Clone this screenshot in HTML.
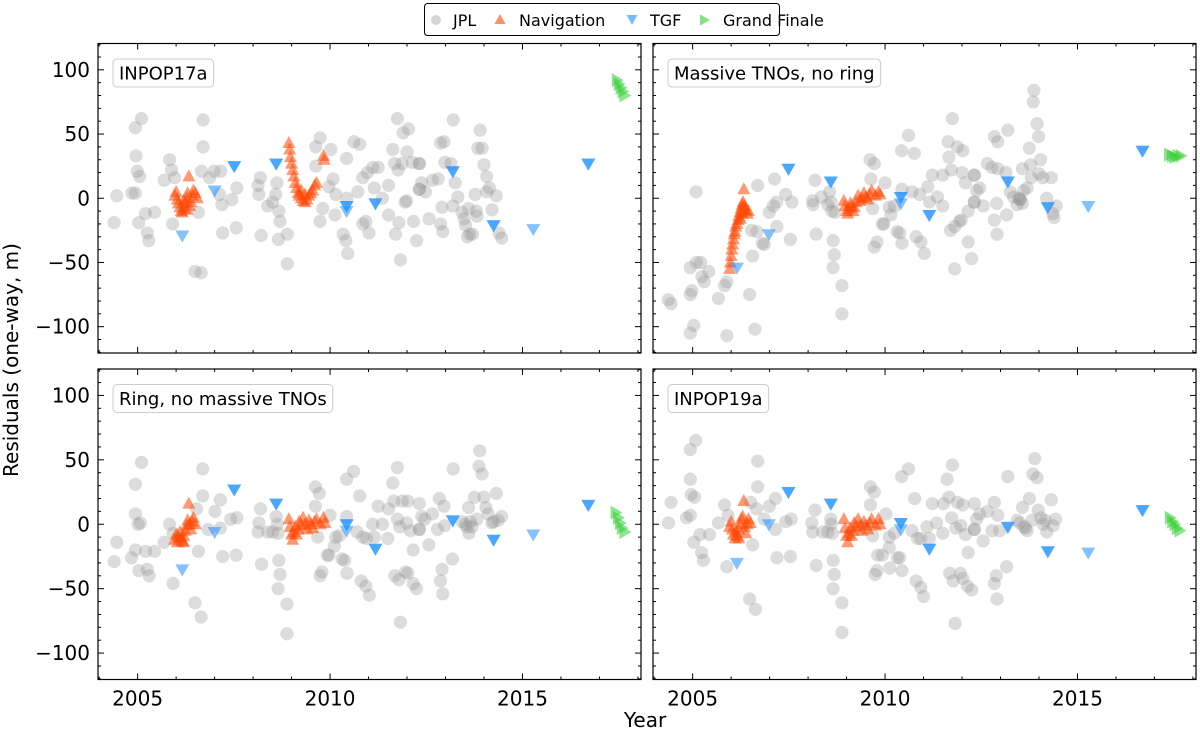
<!DOCTYPE html>
<html><head><meta charset="utf-8"><title>Residuals</title>
<style>
html,body{margin:0;padding:0;background:#fff;}
svg{display:block;font-family:"DejaVu Sans","Liberation Sans",sans-serif;}
</style></head>
<body>
<svg id="chart" width="1200" height="735" viewBox="0 0 1200 735" xmlns="http://www.w3.org/2000/svg">
<g id="legend">
  <rect x="424.5" y="3.5" width="355" height="32" rx="3" fill="#fff" stroke="#000" stroke-width="1"/>
  <g><circle cx="436" cy="20" r="5" fill="rgba(150,150,150,0.4)"/><text x="453" y="26" font-size="16">JPL</text></g>
  <g><polygon points="500,14 505.5,24 494.5,24" fill="#ff4500" opacity="0.6"/><text x="519" y="26" font-size="16">Navigation</text></g>
  <g><polygon points="626.5,15 637.5,15 632,25" fill="#1e90ff" opacity="0.6"/><text x="650" y="26" font-size="16">TGF</text></g>
  <g><polygon points="700,14.5 710,20 700,25.5" fill="#32cd32" opacity="0.6"/><text x="723" y="26" font-size="16">Grand Finale</text></g>
</g>
<text x="18" y="360" font-size="20" text-anchor="middle" transform="rotate(-90 18 360)">Residuals (one-way, m)</text>
<text x="645" y="727" font-size="20" text-anchor="middle">Year</text>
</svg>
<script>
const xTicks=[2005,2010,2015];
const yTicks=[100,50,0,-50,-100];
const yTickLabels=["100","50","0","\u221250","\u2212100"];
const panelTitles=["INPOP17a","Massive TNOs, no ring","Ring, no massive TNOs","INPOP19a"];

const jplTL=[[2004.46,2],[2004.39,-19],[2004.94,55],[2005.1,62],[2004.96,33],[2004.99,21],[2005.05,17],[2004.85,4],[2004.94,4],[2005.2,-12],[2005.44,-11],[2005.03,-19],[2005.25,-27],[2005.29,-33],[2005.69,14],[2005.83,30],[2005.88,22],[2005.96,16],[2005.91,-20],[2006.58,-11],[2006.7,61],[2006.7,40],[2006.66,21],[2006.87,16],[2006.99,21],[2007.16,21],[2007.13,3],[2007.19,-5],[2007.45,-1],[2007.58,8],[2007.21,-27],[2007.56,-23],[2006.49,-57],[2006.65,-58],[2008.15,3],[2008.13,10],[2008.19,16],[2008.38,-6],[2008.51,-3],[2008.59,3],[2008.62,12],[2008.67,-10],[2008.7,-18],[2008.21,-29],[2008.66,-32],[2008.89,-28],[2008.89,-51],[2009.74,47],[2009.63,40],[2010.02,38],[2009.63,25],[2009.81,-8],[2009.74,-18],[2009.97,9],[2010.08,15],[2010.15,3],[2010.13,-13],[2010.43,31],[2010.62,44],[2010.77,42],[2010.44,0],[2010.34,-28],[2010.41,-33],[2010.46,-43],[2010.72,5],[2010.85,-20],[2010.93,-18],[2011.01,-27],[2010.85,16],[2010.97,20],[2011.11,24],[2011.25,24],[2011.15,8],[2011.36,0],[2011.52,10],[2011.52,-13],[2011.63,38],[2011.75,62],[2011.9,51],[2012.04,54],[2012.0,36],[2011.68,27],[2011.77,22],[2011.87,27],[2012.14,28],[2012.32,27],[2012.32,27],[2011.99,-2],[2011.95,-3],[2011.79,-19],[2011.7,-28],[2011.83,-48],[2012.17,-18],[2012.25,-33],[2012.32,7],[2012.32,7],[2012.38,12],[2012.48,5],[2012.57,-16],[2012.66,14],[2012.81,15],[2012.87,43],[2012.96,44],[2012.98,28],[2013.2,61],[2013.14,27],[2013.25,12],[2012.91,-7],[2013.19,-6],[2012.87,-20],[2012.93,-26],[2013.32,1],[2013.43,-11],[2013.48,-16],[2013.52,-21],[2013.6,-8],[2013.63,-28],[2013.7,-28],[2013.57,-30],[2013.8,-10],[2013.82,-14],[2013.77,3],[2013.84,39],[2013.95,39],[2013.9,53],[2014.0,26],[2014.07,17],[2014.07,5],[2014.14,8],[2014.21,-9],[2014.32,2],[2014.39,-27],[2014.46,-31]];
const jplTR=[[2004.37,-79],[2004.44,-82],[2004.94,-75],[2004.94,-105],[2005.03,-99],[2004.94,-54],[2005.1,-50],[2005.21,-50],[2005.24,-61],[2005.3,-65],[2005.42,-57],[2004.98,-72],[2005.67,-78],[2005.83,-68],[2005.89,-65],[2005.89,-107],[2005.09,5],[2006.48,-75],[2006.62,-102],[2006.56,-45],[2006.53,-25],[2006.67,-26],[2006.81,-35],[2006.86,-36],[2006.69,10],[2006.99,-11],[2007.1,-6],[2007.18,-3],[2007.19,-22],[2007.13,15],[2007.42,3],[2007.58,-3],[2007.54,-32],[2008.18,14],[2008.12,-2],[2008.13,-5],[2008.21,-28],[2008.35,1],[2008.56,5],[2008.6,-3],[2008.51,-5],[2008.62,-10],[2008.7,-11],[2008.65,-33],[2008.68,-44],[2008.65,-54],[2008.88,-68],[2008.88,-90],[2009.61,30],[2009.72,27],[2009.63,15],[2010.0,12],[2009.68,-8],[2009.72,-38],[2009.79,-34],[2009.93,-20],[2009.97,-20],[2010.11,-7],[2010.15,-13],[2010.24,-6],[2010.31,-26],[2010.38,-27],[2010.44,-35],[2010.44,7],[2010.43,37],[2010.61,49],[2010.76,35],[2010.7,5],[2010.9,3],[2010.81,-30],[2010.93,-34],[2011.02,-43],[2011.11,9],[2011.23,18],[2011.36,1],[2011.16,-3],[2011.5,-6],[2011.5,18],[2011.64,44],[2011.66,32],[2011.72,22],[2011.75,62],[2011.88,40],[2012.02,37],[2012.0,20],[2012.09,12],[2012.32,18],[2012.32,18],[2012.38,6],[2012.46,8],[2012.32,-3],[2012.32,-3],[2012.16,-10],[2011.98,-17],[2011.93,-18],[2011.7,-25],[2011.81,-22],[2012.16,-34],[2012.25,-47],[2011.81,-55],[2012.55,-6],[2012.66,27],[2012.78,24],[2012.93,23],[2012.84,48],[2012.93,44],[2013.19,53],[2012.9,-4],[2012.84,-17],[2012.91,-28],[2013.16,-13],[2013.14,20],[2013.25,5],[2013.34,1],[2013.48,0],[2013.43,-5],[2013.57,-4],[2013.51,-1],[2013.51,-1],[2013.6,6],[2013.69,8],[2013.57,23],[2013.75,39],[2013.78,26],[2013.8,16],[2013.87,84],[2013.85,75],[2013.95,58],[2013.99,48],[2014.04,30],[2014.0,19],[2014.1,16],[2014.32,16],[2014.2,0],[2014.45,-6],[2014.36,-12],[2014.39,-15]];
const jplBL=[[2004.46,-14],[2004.39,-29],[2004.84,-26],[2004.94,-20],[2005.03,-36],[2005.25,-35],[2005.3,-40],[2005.21,-21],[2005.44,-21],[2005.69,-14],[2005.92,-46],[2005.1,48],[2004.94,31],[2004.94,8],[2005.01,0],[2005.07,1],[2005.83,0],[2005.92,-7],[2006.53,12],[2006.69,22],[2006.69,43],[2007.15,19],[2007.01,10],[2006.83,-4],[2007.15,-3],[2007.42,4],[2007.58,5],[2007.21,-25],[2007.56,-24],[2006.58,-21],[2006.49,-61],[2006.65,-72],[2008.15,1],[2008.13,-6],[2008.19,12],[2008.22,-31],[2008.38,-6],[2008.51,-6],[2008.6,6],[2008.63,0],[2008.65,-7],[2008.67,-28],[2008.7,-39],[2008.65,-50],[2008.88,-62],[2008.88,-85],[2009.62,29],[2009.72,24],[2009.62,14],[2010.0,7],[2009.68,-10],[2009.74,-40],[2009.79,-37],[2009.93,-24],[2009.97,-24],[2010.11,-17],[2010.15,-10],[2010.24,-9],[2010.31,-27],[2010.38,-28],[2010.44,-38],[2010.43,6],[2010.43,35],[2010.61,41],[2010.77,22],[2010.7,-6],[2010.85,-10],[2010.95,-11],[2010.81,-44],[2010.93,-48],[2011.02,-55],[2011.11,0],[2011.25,14],[2011.36,0],[2011.15,-10],[2011.5,-11],[2011.52,12],[2011.63,32],[2011.66,18],[2011.75,44],[2011.81,-2],[2011.75,4],[2011.88,18],[2012.02,18],[2011.99,1],[2012.09,-5],[2012.16,-20],[2012.32,16],[2012.32,-4],[2012.32,-4],[2012.38,6],[2012.46,4],[2012.57,-16],[2012.66,8],[2012.84,20],[2012.96,14],[2012.79,-4],[2012.98,-1],[2013.2,43],[2013.18,-27],[2012.91,-35],[2012.87,-44],[2012.93,-54],[2011.68,-40],[2011.79,-43],[2011.96,-37],[2012.02,-38],[2012.16,-46],[2012.25,-50],[2011.83,-76],[2013.43,2],[2013.52,0],[2013.6,13],[2013.61,-7],[2013.69,-2],[2013.75,21],[2013.82,4],[2013.89,57],[2013.87,45],[2013.95,39],[2014.0,21],[2014.05,13],[2014.11,8],[2014.2,1],[2014.32,24],[2014.37,3],[2014.46,6],[2014.25,2],[2013.55,-2],[2013.65,2]];
const jplBR=[[2004.44,17],[2004.37,1],[2004.84,5],[2004.94,7],[2004.94,35],[2004.94,58],[2005.08,65],[2004.96,23],[2005.05,21],[2005.19,-8],[2005.44,-8],[2005.03,-14],[2005.23,-22],[2005.28,-28],[2005.89,-33],[2005.67,1],[2005.83,15],[2005.92,7],[2006.69,49],[2006.69,29],[2006.51,17],[2006.66,12],[2006.86,4],[2006.56,-16],[2007.15,-4],[2006.99,14],[2007.15,20],[2007.42,2],[2007.56,4],[2007.19,-26],[2007.54,-25],[2006.48,-58],[2006.63,-66],[2008.18,11],[2008.1,1],[2008.12,-6],[2008.21,-32],[2008.38,-6],[2008.51,-6],[2008.59,4],[2008.6,0],[2008.63,-7],[2008.65,-28],[2008.68,-39],[2008.65,-50],[2008.88,-61],[2008.88,-84],[2009.62,29],[2009.72,25],[2009.62,15],[2010.02,8],[2009.68,-9],[2009.81,-24],[2009.93,-24],[2010.11,-18],[2010.11,-10],[2010.24,-7],[2010.32,-26],[2010.38,-26],[2010.44,-36],[2009.74,-39],[2009.79,-36],[2010.12,-34],[2010.43,37],[2010.61,43],[2010.77,20],[2010.7,-5],[2010.84,-11],[2010.93,-11],[2011.15,-11],[2010.81,-44],[2010.93,-49],[2011.0,-56],[2011.09,-2],[2011.23,16],[2011.34,1],[2011.5,-7],[2011.52,16],[2011.61,35],[2011.66,21],[2011.75,46],[2011.73,5],[2011.84,-3],[2011.88,17],[2012.02,15],[2011.97,-1],[2012.09,-8],[2012.16,-22],[2012.32,16],[2012.32,-4],[2012.32,-4],[2012.38,4],[2012.46,8],[2012.55,-13],[2012.66,10],[2012.84,17],[2012.93,7],[2012.78,-5],[2012.98,-5],[2013.19,37],[2013.16,-33],[2012.89,-40],[2012.84,-46],[2012.91,-58],[2011.68,-38],[2011.77,-44],[2011.96,-38],[2012.02,-42],[2012.14,-48],[2012.25,-51],[2011.82,-77],[2013.43,3],[2013.57,13],[2013.61,-2],[2013.69,-5],[2013.75,20],[2013.82,3],[2013.89,51],[2013.84,39],[2013.95,36],[2013.98,11],[2014.05,5],[2014.11,0],[2014.2,-6],[2014.32,19],[2014.37,-1],[2014.43,4],[2014.16,3],[2013.5,1],[2013.65,-3]];

const navTL=[[2005.97,2],[2006.0,5],[2006.03,-1],[2006.06,-4],[2006.1,-7],[2006.13,-10],[2006.16,-11],[2006.2,-8],[2006.24,-4],[2006.27,0],[2006.3,4],[2006.33,17],[2006.35,-6],[2006.38,-3],[2006.42,2],[2006.45,6],[2006.5,4],[2006.55,0],[2006.2,-2],[2006.28,-9],[2008.93,43],[2008.95,38],[2008.97,32],[2009.0,27],[2009.03,22],[2009.06,17],[2009.1,12],[2009.13,8],[2009.17,4],[2009.2,2],[2009.25,0],[2009.3,-2],[2009.35,-3],[2009.4,-1],[2009.45,2],[2009.5,4],[2009.55,6],[2009.6,10],[2009.65,12],[2009.35,3],[2009.25,6],[2009.83,33],[2009.85,30]];
const navTR=[[2005.96,-55],[2005.98,-50],[2006.0,-45],[2006.02,-40],[2006.04,-36],[2006.06,-32],[2006.08,-28],[2006.1,-26],[2006.12,-22],[2006.15,-20],[2006.18,-17],[2006.2,-14],[2006.23,-11],[2006.26,-8],[2006.29,-5],[2006.31,-3],[2006.33,7],[2006.35,-6],[2006.38,-9],[2006.42,-12],[2006.45,-10],[2006.24,-16],[2006.3,-12],[2008.93,-2],[2008.96,-6],[2009.0,-10],[2009.03,-12],[2009.06,-8],[2009.1,-4],[2009.13,-6],[2009.17,-10],[2009.2,-7],[2009.25,-3],[2009.3,2],[2009.35,-2],[2009.4,0],[2009.45,4],[2009.5,1],[2009.55,-1],[2009.6,3],[2009.65,6],[2009.75,2],[2009.83,5],[2009.87,3]];
const navBL=[[2005.96,-12],[2006.0,-8],[2006.03,-14],[2006.06,-10],[2006.1,-6],[2006.13,-11],[2006.16,-13],[2006.2,-9],[2006.24,-5],[2006.27,-1],[2006.3,3],[2006.33,16],[2006.35,0],[2006.38,-4],[2006.42,2],[2006.45,5],[2006.5,0],[2006.2,-14],[2008.93,4],[2008.96,-2],[2009.0,-8],[2009.03,-12],[2009.06,-6],[2009.1,-2],[2009.13,-8],[2009.17,-4],[2009.2,2],[2009.25,-1],[2009.3,5],[2009.35,0],[2009.4,-4],[2009.45,3],[2009.5,0],[2009.55,-3],[2009.6,2],[2009.65,4],[2009.75,0],[2009.83,5],[2009.87,1]];
const navBR=[[2005.96,-2],[2006.0,2],[2006.03,-4],[2006.06,-8],[2006.1,-11],[2006.13,-6],[2006.16,-9],[2006.2,-4],[2006.24,0],[2006.27,4],[2006.3,6],[2006.33,18],[2006.35,-2],[2006.38,-7],[2006.42,0],[2006.45,4],[2006.5,1],[2006.2,-11],[2008.93,4],[2008.96,-3],[2009.0,-9],[2009.03,-14],[2009.06,-7],[2009.1,-3],[2009.13,-9],[2009.17,-5],[2009.2,1],[2009.25,-2],[2009.3,4],[2009.35,-1],[2009.4,-5],[2009.45,2],[2009.5,-1],[2009.55,-4],[2009.6,1],[2009.65,4],[2009.75,-1],[2009.83,4],[2009.87,0]];

const tgfTL=[[2007.51,25],[2007.51,25],[2008.6,27],[2008.6,27],[2007.0,6],[2006.16,-29],[2010.43,-6],[2010.43,-6],[2010.43,-10],[2011.18,-4],[2011.18,-4],[2013.19,21],[2013.19,21],[2014.25,-21],[2014.25,-21],[2015.28,-24],[2016.71,27],[2016.71,27]];
const tgfTR=[[2007.49,23],[2007.49,23],[2008.59,13],[2008.59,13],[2006.98,-28],[2006.15,-54],[2010.41,1],[2010.41,1],[2010.41,-4],[2011.15,-13],[2011.15,-13],[2013.19,13],[2013.19,13],[2014.23,-7],[2014.23,-7],[2015.28,-6],[2016.69,37],[2016.69,37]];
const tgfBL=[[2007.51,27],[2007.51,27],[2008.6,16],[2008.6,16],[2007.0,-6],[2006.16,-35],[2010.43,0],[2010.43,0],[2010.43,-5],[2011.18,-19],[2011.18,-19],[2013.19,3],[2013.19,3],[2014.25,-12],[2014.25,-12],[2015.28,-8],[2016.71,15],[2016.71,15]];
const tgfBR=[[2007.49,25],[2007.49,25],[2008.59,16],[2008.59,16],[2006.98,0],[2006.15,-30],[2010.41,1],[2010.41,1],[2010.41,-4],[2011.15,-19],[2011.15,-19],[2013.19,-2],[2013.19,-2],[2014.23,-21],[2014.23,-21],[2015.28,-22],[2016.69,11],[2016.69,11]];

const gfTL=[[2017.45,92],[2017.5,89],[2017.55,86],[2017.6,83],[2017.65,80]];
const gfTR=[[2017.38,34],[2017.45,33],[2017.52,32],[2017.6,33],[2017.68,33]];
const gfBL=[[2017.42,9],[2017.48,5],[2017.53,1],[2017.58,-3],[2017.65,-6]];
const gfBR=[[2017.4,5],[2017.46,2],[2017.52,0],[2017.58,-3],[2017.65,-5]];

const NS="http://www.w3.org/2000/svg";
const svg=document.getElementById('chart');
const panels=[
 {x:98,y:43.5,w:543,h:309.5,jpl:jplTL,nav:navTL,tgf:tgfTL,gf:gfTL,name:'panel-inpop17a',yl:true,xl:false},
 {x:653,y:43.5,w:543,h:309.5,jpl:jplTR,nav:navTR,tgf:tgfTR,gf:gfTR,name:'panel-massive-tnos-no-ring',yl:false,xl:false},
 {x:98,y:369,w:543,h:310.5,jpl:jplBL,nav:navBL,tgf:tgfBL,gf:gfBL,name:'panel-ring-no-massive-tnos',yl:true,xl:true},
 {x:653,y:369,w:543,h:310.5,jpl:jplBR,nav:navBR,tgf:tgfBR,gf:gfBR,name:'panel-inpop19a',yl:false,xl:true}
];
const X0=2003.97,X1=2018.08,Y0=-120.5,Y1=120.5;
function mk(tag,attrs,parent){const e=document.createElementNS(NS,tag);for(const k in attrs)e.setAttribute(k,attrs[k]);parent.appendChild(e);return e;}
panels.forEach((p,i)=>{
  const sx=v=>p.x+(v-X0)/(X1-X0)*p.w;
  const sy=v=>p.y+(Y1-v)/(Y1-Y0)*p.h;
  const g=mk('g',{},svg);
  
  
  const cp='cp'+i;
  const defs=mk('defs',{},g);
  const c=mk('clipPath',{id:cp},defs);
  mk('rect',{x:p.x,y:p.y,width:p.w,height:p.h},c);
  const marks=mk('g',{'clip-path':'url(#'+cp+')'},g);
  p.jpl.forEach(d=>{
    const e=mk('circle',{cx:sx(d[0]),cy:sy(d[1]),r:6.6,fill:'rgb(150,150,150)','fill-opacity':0.33},marks);
    
    
  });
  p.nav.forEach(d=>{
    const x=sx(d[0]),y=sy(d[1]);
    const e=mk('polygon',{points:`${x},${y-7} ${x+6.5},${y+5} ${x-6.5},${y+5}`,fill:'#ff4500','fill-opacity':0.55},marks);
    
    
  });
  p.tgf.forEach(d=>{
    const x=sx(d[0]),y=sy(d[1]);
    const e=mk('polygon',{points:`${x-7},${y-5} ${x+7},${y-5} ${x},${y+7}`,fill:'#1e90ff','fill-opacity':0.55},marks);
    
    
  });
  p.gf.forEach(d=>{
    const x=sx(d[0]),y=sy(d[1]);
    const e=mk('polygon',{points:`${x-5},${y-7} ${x+7},${y} ${x-5},${y+7}`,fill:'#32cd32','fill-opacity':0.55},marks);
    
    
  });
  const ax=mk('g',{stroke:'#000','stroke-width':1},g);
  for(let yr=2004;yr<=2018;yr++){
    const x=sx(yr),L=(yr%5===0)?6:3;
    mk('line',{x1:x,y1:p.y+p.h,x2:x,y2:p.y+p.h-L},ax);
    mk('line',{x1:x,y1:p.y,x2:x,y2:p.y+L},ax);
  }
  for(let v=-120;v<=120;v+=10){
    const y=sy(v),L=(v%50===0)?6:3;
    mk('line',{x1:p.x,y1:y,x2:p.x+L,y2:y},ax);
    mk('line',{x1:p.x+p.w,y1:y,x2:p.x+p.w-L,y2:y},ax);
  }
  mk('rect',{x:p.x,y:p.y,width:p.w,height:p.h,fill:'none',stroke:'#000','stroke-width':1.2},g);
  if(p.yl){yTicks.forEach((v,k)=>{
    const t=mk('text',{x:p.x-8,y:sy(v)+7,'font-size':20,'text-anchor':'end'},g);
    t.textContent=yTickLabels[k];
    
    
  });}
  if(p.xl){xTicks.forEach(v=>{
    const t=mk('text',{x:sx(v),y:p.y+p.h+26,'font-size':20,'text-anchor':'middle'},g);
    t.textContent=String(v);
    
    
  });}
  const lb=mk('g',{},g);
  
  
  const tt=mk('text',{x:p.x+21,y:p.y+36,'font-size':18},lb);
  tt.textContent=panelTitles[i];
  const bw=tt.getComputedTextLength()+12;
  mk('rect',{x:p.x+15,y:p.y+15.5,width:bw,height:28,rx:4,fill:'#fff',stroke:'#ccc'},lb);
  lb.appendChild(tt);
});
</script>
</body></html>
